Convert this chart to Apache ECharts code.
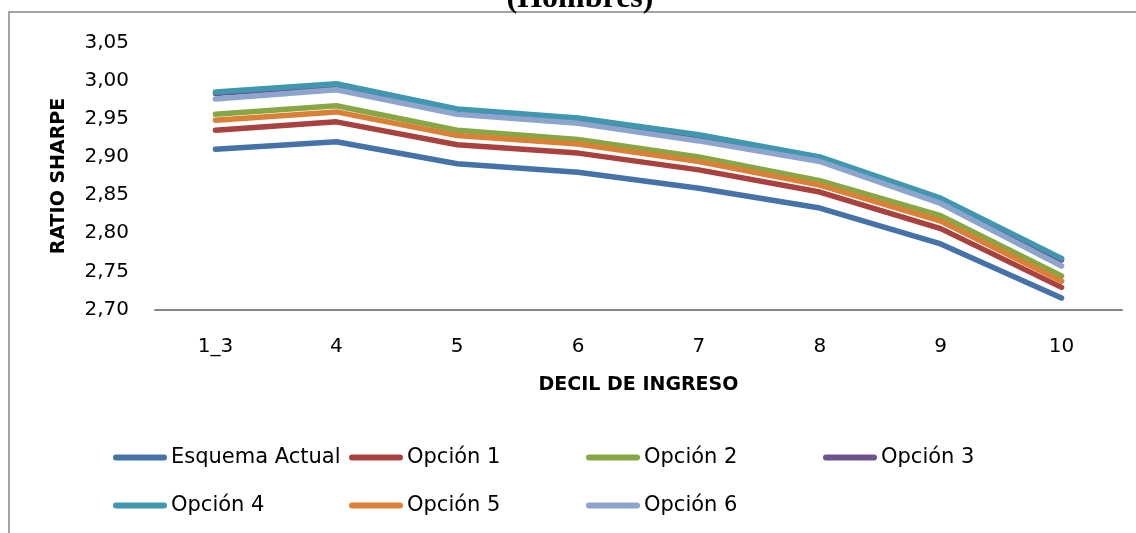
<!DOCTYPE html>
<html>
<head>
<meta charset="utf-8">
<script src="https://cdn.jsdelivr.net/npm/echarts@6/dist/echarts.min.js"></script>
<style>
  html, body { margin: 0; padding: 0; background: #fff; }
  #chart { width: 1136px; height: 533px; }
</style>
</head>
<body>
<div id="chart"></div>
<script>
// categories (decil de ingreso)
const deciles = ["1_3", "4", "5", "6", "7", "8", "9", "10"];

// ratio sharpe per scheme
const esquemaActual = [2.910, 2.920, 2.891, 2.880, 2.859, 2.833, 2.786, 2.715];
const opcion1 = [2.935, 2.946, 2.916, 2.905, 2.883, 2.854, 2.806, 2.729];
const opcion2 = [2.956, 2.967, 2.935, 2.923, 2.900, 2.869, 2.823, 2.744];
const opcion3 = [2.983, 2.994, 2.961, 2.949, 2.927, 2.898, 2.844, 2.765];
const opcion4 = [2.985, 2.996, 2.963, 2.951, 2.929, 2.900, 2.846, 2.767];
const opcion5 = [2.948, 2.959, 2.928, 2.917, 2.894, 2.863, 2.816, 2.737];
const opcion6 = [2.976, 2.988, 2.956, 2.944, 2.921, 2.894, 2.839, 2.757];

const seriesNames = ["Esquema Actual", "Opción 1", "Opción 2", "Opción 3", "Opción 4", "Opción 5", "Opción 6"];
const seriesData = [esquemaActual, opcion1, opcion2, opcion3, opcion4, opcion5, opcion6];
const colors = ["#4472a9", "#a9413f", "#87a745", "#6e548d", "#3f98af", "#db8137", "#8da4cc"];

// legend is laid out like the excel one: two rows, fixed columns
const legendLeft = [113, 349, 586, 823, 113, 349, 586];
const legendTop = [447, 447, 447, 447, 495, 495, 495];

let chart = echarts.init(document.getElementById("chart"));

let option = {
  animation: false,
  color: colors,
  textStyle: { fontFamily: "DejaVu Sans", color: "#000" },
  graphic: [
    {
      type: "rect",
      shape: { x: 9, y: 12, width: 1300, height: 700 },
      style: { fill: "none", stroke: "#868686", lineWidth: 1.5 },
      silent: true
    },
    {
      type: "text",
      x: 580,
      y: -1,
      style: {
        text: "(Hombres)",
        font: "bold 32px 'Liberation Serif'",
        fill: "#000",
        textAlign: "center",
        textVerticalAlign: "middle"
      }
    }
  ],
  legend: seriesNames.map((name, i) => ({
    data: [name],
    left: legendLeft[i],
    top: legendTop[i],
    padding: 0,
    itemWidth: 54,
    itemHeight: 6,
    itemGap: 0,
    icon: "path://M3,0 L51,0 A3,3 0 0 1 51,6 L3,6 A3,3 0 0 1 3,0 Z",
    itemStyle: { borderWidth: 0 },
    textStyle: { fontFamily: "DejaVu Sans", fontSize: 21, color: "#000", padding: [0, 0, 0, -1] }
  })),
  grid: { left: 155, right: 14, top: 42.5, bottom: 223.5 },
  xAxis: {
    type: "category",
    data: deciles,
    boundaryGap: true,
    name: "DECIL DE INGRESO",
    nameLocation: "middle",
    nameGap: 66,
    nameTextStyle: { fontFamily: "DejaVu Sans", fontWeight: "bold", fontSize: 19, color: "#000" },
    axisLine: { lineStyle: { color: "#868686", width: 2 } },
    axisTick: { show: false },
    axisLabel: { fontFamily: "DejaVu Sans", fontSize: 20, color: "#000", margin: 27 },
    splitLine: { show: false }
  },
  yAxis: {
    type: "value",
    min: 2.70,
    max: 3.05,
    interval: 0.05,
    name: "RATIO SHARPE",
    nameLocation: "middle",
    nameGap: 86,
    nameTextStyle: { fontFamily: "DejaVu Sans", fontWeight: "bold", fontSize: 19, color: "#000" },
    axisLine: { show: false },
    axisTick: { show: false },
    splitLine: { show: false },
    axisLabel: {
      fontFamily: "DejaVu Sans",
      fontSize: 20,
      color: "#000",
      margin: 26,
      formatter: (v) => v.toFixed(2).replace(".", ",")
    }
  },
  series: seriesNames.map((name, i) => ({
    name: name,
    type: "line",
    data: seriesData[i],
    showSymbol: false,
    symbol: "none",
    color: colors[i],
    lineStyle: { width: 5.5, color: colors[i], cap: "round", join: "round" }
  }))
};

chart.setOption(option);
</script>
</body>
</html>
